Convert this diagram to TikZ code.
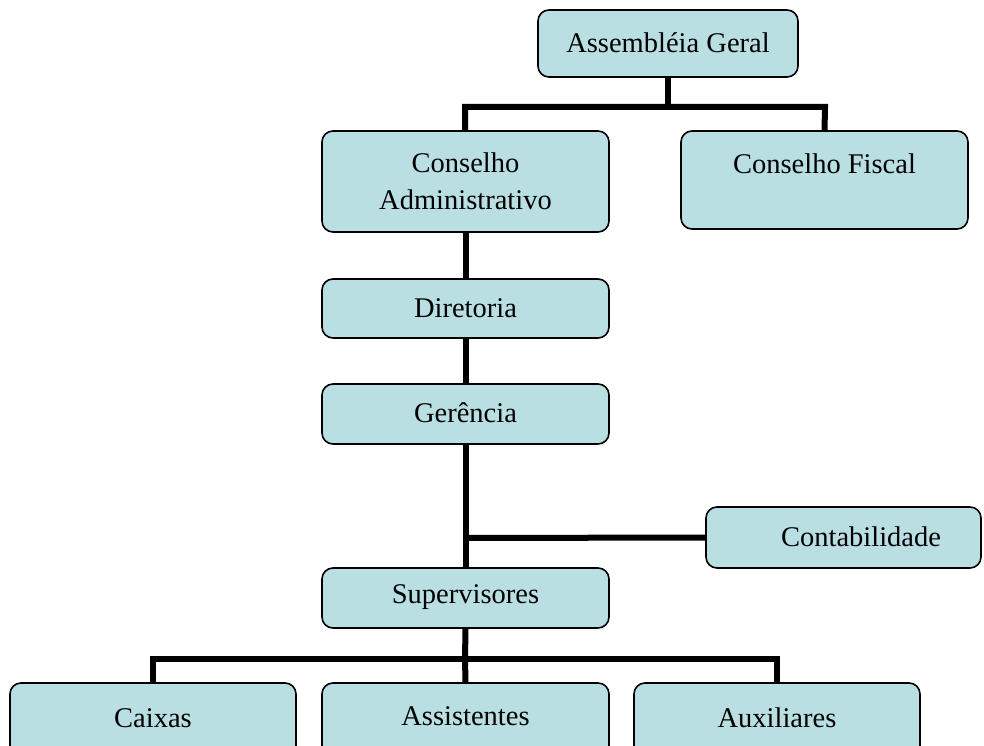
\documentclass[tikz,border=0pt]{standalone}
\usepackage{fontspec}
\setmainfont{Liberation Serif}
\definecolor{boxfill}{RGB}{185,223,227}
\begin{document}
\begin{tikzpicture}[x=1pt,y=-1pt,
  orgbox/.style={draw=black, line width=1.6pt, fill=boxfill, rounded corners=11pt,
    inner sep=0pt, align=center},
  orgtext/.style={inner sep=0pt, align=center, font=\fontsize{28.5}{37}\selectfont},
  link/.style={line width=6pt, draw=black}]
\useasboundingbox (0,0) rectangle (984,746);
\clip (0,0) rectangle (984,746);
\coordinate (j1) at (668,107);
\coordinate (j1l) at (465,107);
\coordinate (j1r) at (825,107);
\coordinate (jc) at (465,538);
\coordinate (j2) at (465,659);
\coordinate (j2l) at (153,659);
\coordinate (j2r) at (777,659);
% boxes
\node[orgbox, minimum width=260pt, minimum height=67pt] (ag) at (668,43.5) {};
\node[orgbox, minimum width=287pt, minimum height=101pt] (ca) at (465.5,181.5) {};
\node[orgbox, minimum width=287pt, minimum height=98pt] (cf) at (824.5,180) {};
\node[orgbox, minimum width=287pt, minimum height=59pt] (dir) at (465.5,308.5) {};
\node[orgbox, minimum width=287pt, minimum height=60pt] (ger) at (465.5,414) {};
\node[orgbox, minimum width=275pt, minimum height=61pt] (cont) at (843.5,537.5) {};
\node[orgbox, minimum width=287pt, minimum height=60pt] (sup) at (465.5,598) {};
\node[orgbox, minimum width=286pt, minimum height=80pt] (cx) at (153,723) {};
\node[orgbox, minimum width=287pt, minimum height=80pt] (as) at (465.5,723) {};
\node[orgbox, minimum width=286pt, minimum height=80pt] (au) at (777,723) {};
% texts
\node[orgtext] (tag) at (668,43) {Assembléia Geral};
\node[orgtext] (tca) at (465.5,181) {Conselho\\Administrativo};
\node[orgtext] (tcf) at (824.5,164) {Conselho Fiscal};
\node[orgtext] (tdir) at (465.5,308) {Diretoria};
\node[orgtext] (tger) at (465.5,413) {Gerência};
\node[orgtext] (tcont) at (861,537) {Contabilidade};
\node[orgtext] (tsup) at (465.5,597) {Supervisores};
\node[orgtext] (tcx) at (153,718) {Caixas};
\node[orgtext] (tas) at (465.5,716) {Assistentes};
\node[orgtext] (tau) at (777,718) {Auxiliares};
% connectors
\draw[link] (ag.south) -- (j1);
\draw[link] (j1l |- ca.north) -- (j1l) -- (j1r) -- (cf.north);
\draw[link] (ca.south) -- (dir.north);
\draw[link] (dir.south) -- (ger.north);
\draw[link] (ger.south) -- (sup.north);
\draw[link] (jc) -- (cont.west);
\draw[link] (sup.south) -- (j2);
\draw[link] (cx.north) -- (j2l) -- (j2r) -- (au.north);
\draw[link] (j2) -- (as.north);
\end{tikzpicture}
\end{document}
